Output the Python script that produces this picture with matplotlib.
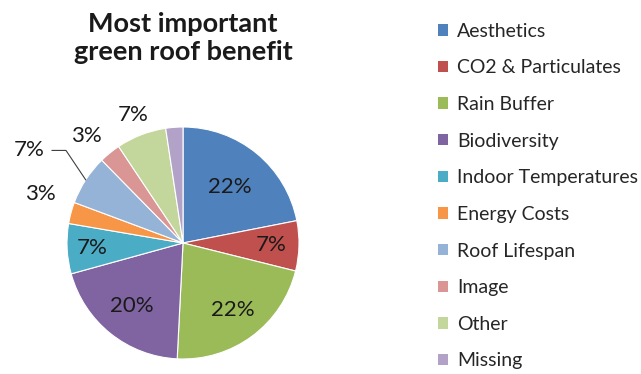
import numpy as np
import matplotlib
matplotlib.use("Agg")
from matplotlib import pyplot as plt
from matplotlib.patches import Patch

categories = ["Aesthetics", "CO2 & Particulates", "Rain Buffer", "Biodiversity",
              "Indoor Temperatures", "Energy Costs", "Roof Lifespan", "Image",
              "Other", "Missing"]
shares = [22, 7, 22, 20, 7, 3, 7, 3, 7, 2.4]
labels = ["22%", "7%", "22%", "20%", "7%", "3%", "7%", "3%", "7%", ""]
colors = ["#4F81BD", "#C0504D", "#9BBB59", "#8064A2", "#4BACC6",
          "#F79646", "#95B3D7", "#D99694", "#C3D69B", "#B3A2C7"]

# label distance (in radii) and angle nudge (deg) per slice, as placed in the original
label_r = [0.63, 0.76, 0.72, 0.70, 0.78, 1.30, 1.55, 1.24, 1.18, 0]
label_da = [0, 0, 0, 0, 0, -4, 2, 3, 0, 0]

plt.rcParams['font.family'] = ['Lato', 'DejaVu Sans']
W, H = 641, 374
fig = plt.figure(figsize=(W / 100, H / 100), dpi=100)

cx, cy, r = 183, 243, 116
ax = fig.add_axes([(cx - r) / W, (H - cy - r) / H, 2 * r / W, 2 * r / H])
wedges, _ = ax.pie(shares, colors=colors, startangle=90, counterclock=False,
                   wedgeprops=dict(edgecolor="white", linewidth=0.8))
ax.set_xlim(-1, 1)
ax.set_ylim(-1, 1)
ax.set_aspect("equal")

for w, lab, d, da in zip(wedges, labels, label_r, label_da):
    if not lab:
        continue
    mid = (w.theta1 + w.theta2) / 2
    t = np.deg2rad(mid + da)
    x, y = d * np.cos(t), d * np.sin(t)
    ax.text(x, y, lab, ha="center", va="center", fontsize=16, color="#1a1a1a")
    if d > 1.4:
        # leader line for the roof lifespan label
        m = np.deg2rad(mid)
        ax.plot([x + 0.2, x + 0.32, np.cos(m)], [y, y, np.sin(m)], color="#404040",
                linewidth=0.8, clip_on=False)

fig.text(cx / W, 1 - 38 / H, "Most important\ngreen roof benefit", ha="center",
         va="center", fontsize=19.5, fontweight="bold", color="#1a1a1a",
         linespacing=1.22)

handles = [Patch(facecolor=c, edgecolor="none") for c in colors]
fig.legend(handles, categories, loc="upper left", bbox_to_anchor=(428 / W, 1 - 13 / H),
           frameon=False, fontsize=14, handlelength=0.53, handleheight=0.53,
           handletextpad=0.45, labelspacing=1.01, borderpad=0, labelcolor="#262626")

fig.savefig("out.png", dpi=100)
